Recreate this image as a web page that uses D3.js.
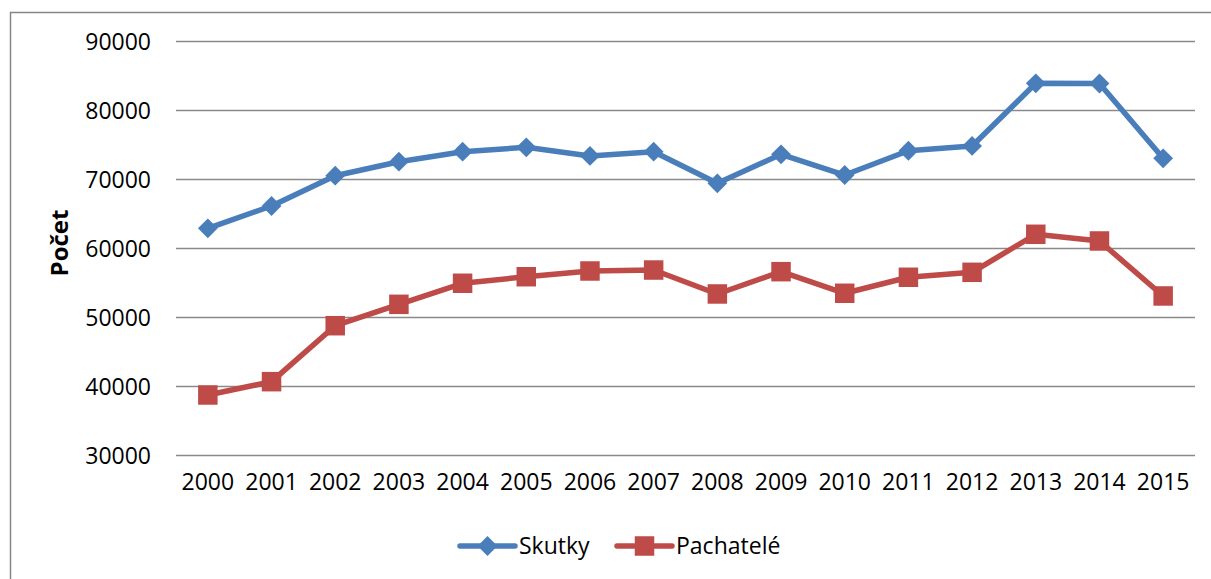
<!DOCTYPE html>
<html>
<head>
<meta charset="utf-8">
<script src="https://cdn.jsdelivr.net/npm/d3@7"></script>
<style>
  body { margin: 0; background: #fff; }
  svg text { font-family: "Open Sans", "Liberation Sans", sans-serif; fill: #000; }
</style>
</head>
<body>
<svg id="chart" width="1211" height="579"></svg>
<script>
// data
var years = ['2000','2001','2002','2003','2004','2005','2006','2007',
             '2008','2009','2010','2011','2012','2013','2014','2015'];
var skutky = [62930, 66160, 70550, 72580, 74030, 74670, 73410, 74030,
              69450, 73650, 70650, 74170, 74860, 83940, 83910, 73070];
var pachatele = [38770, 40700, 48810, 51910, 54960, 55910, 56740, 56880,
                 53410, 56640, 53510, 55830, 56550, 62060, 61090, 53120];
var yTicks = [30000, 40000, 50000, 60000, 70000, 80000, 90000];
var seriesNames = ['Skutky', 'Pachatelé'];
var seriesColors = ['#4a7ebb', '#be4b48'];

var svg = d3.select('#chart');

// chart frame (runs off the right / bottom edge)
svg.append('rect')
    .attr('x', 10.5).attr('y', 12.5)
    .attr('width', 1400).attr('height', 800)
    .attr('fill', 'none')
    .attr('stroke', '#868686')
    .attr('stroke-width', 1.5);

// plot area bounds (not "top": that name is taken by window.top)
var plotLeft = 176, plotRight = 1195, plotTop = 41.5, plotBottom = 455.5;

var x = d3.scaleBand().domain(years).range([plotLeft, plotRight]);
var y = d3.scaleLinear().domain([30000, 90000]).range([plotBottom, plotTop]);

// gridlines
svg.append('g').selectAll('line')
    .data(yTicks)
    .enter().append('line')
    .attr('x1', plotLeft).attr('x2', plotRight)
    .attr('y1', function(d){ return y(d); })
    .attr('y2', function(d){ return y(d); })
    .attr('stroke', '#8a8a8a')
    .attr('stroke-width', 1.6);

// y axis labels
var yAxis = d3.axisLeft(y).tickValues(yTicks).tickSize(0).tickPadding(0)
    .tickFormat(d3.format('d'));
svg.append('g')
    .attr('transform', 'translate(151,0)')
    .call(yAxis)
    .call(function(g){ g.select('.domain').remove(); })
    .selectAll('text')
    .attr('font-size', '23px')
    .attr('dy', '0.35em')
    .style('font-family', '"Open Sans", sans-serif');

// x axis labels
var xAxis = d3.axisBottom(x).tickSize(0).tickPadding(0);
svg.append('g')
    .attr('transform', 'translate(0,474)')
    .call(xAxis)
    .call(function(g){ g.select('.domain').remove(); })
    .selectAll('text')
    .attr('font-size', '23px')
    .style('font-family', '"Open Sans", sans-serif');

svg.selectAll('.tick text').attr('fill', '#000');

// y title
svg.append('text')
    .attr('transform', 'translate(68,243) rotate(-90)')
    .attr('text-anchor', 'middle')
    .attr('font-size', '24px')
    .attr('font-weight', 'bold')
    .text('Počet');

var line = d3.line()
    .x(function(d, i){ return x(years[i]) + x.bandwidth() / 2; })
    .y(function(d){ return y(d); });

var diamond = d3.symbol().type(d3.symbolDiamond2).size(250);
var square = d3.symbol().type(d3.symbolSquare).size(380);

function drawSeries(values, color, sym){
    var g = svg.append('g');
    g.append('path')
        .datum(values)
        .attr('d', line)
        .attr('fill', 'none')
        .attr('stroke', color)
        .attr('stroke-width', 5.5)
        .attr('stroke-linejoin', 'round');
    g.selectAll('path.m')
        .data(values)
        .enter().append('path')
        .classed('m', true)
        .attr('d', sym)
        .attr('fill', color)
        .attr('transform', function(d, i){
            return 'translate(' + (x(years[i]) + x.bandwidth() / 2) + ',' + y(d) + ')';
        });
}

drawSeries(skutky, seriesColors[0], diamond);
drawSeries(pachatele, seriesColors[1], square);

// legend
var legend = [
    {name: seriesNames[0], color: seriesColors[0], sym: diamond, x: 460},
    {name: seriesNames[1], color: seriesColors[1], sym: square, x: 617}
];
var lg = svg.append('g').selectAll('g')
    .data(legend)
    .enter().append('g')
    .attr('transform', function(d){ return 'translate(' + d.x + ',546)'; });
lg.append('line')
    .attr('x1', 0).attr('x2', 55)
    .attr('stroke', function(d){ return d.color; })
    .attr('stroke-width', 5.5)
    .attr('stroke-linecap', 'round');
lg.append('path')
    .attr('d', function(d){ return d.sym(); })
    .attr('transform', 'translate(27.5,0)')
    .attr('fill', function(d){ return d.color; });
lg.append('text')
    .attr('x', 59)
    .attr('y', 8)
    .attr('font-size', '23px')
    .text(function(d){ return d.name; });
</script>
</body>
</html>
